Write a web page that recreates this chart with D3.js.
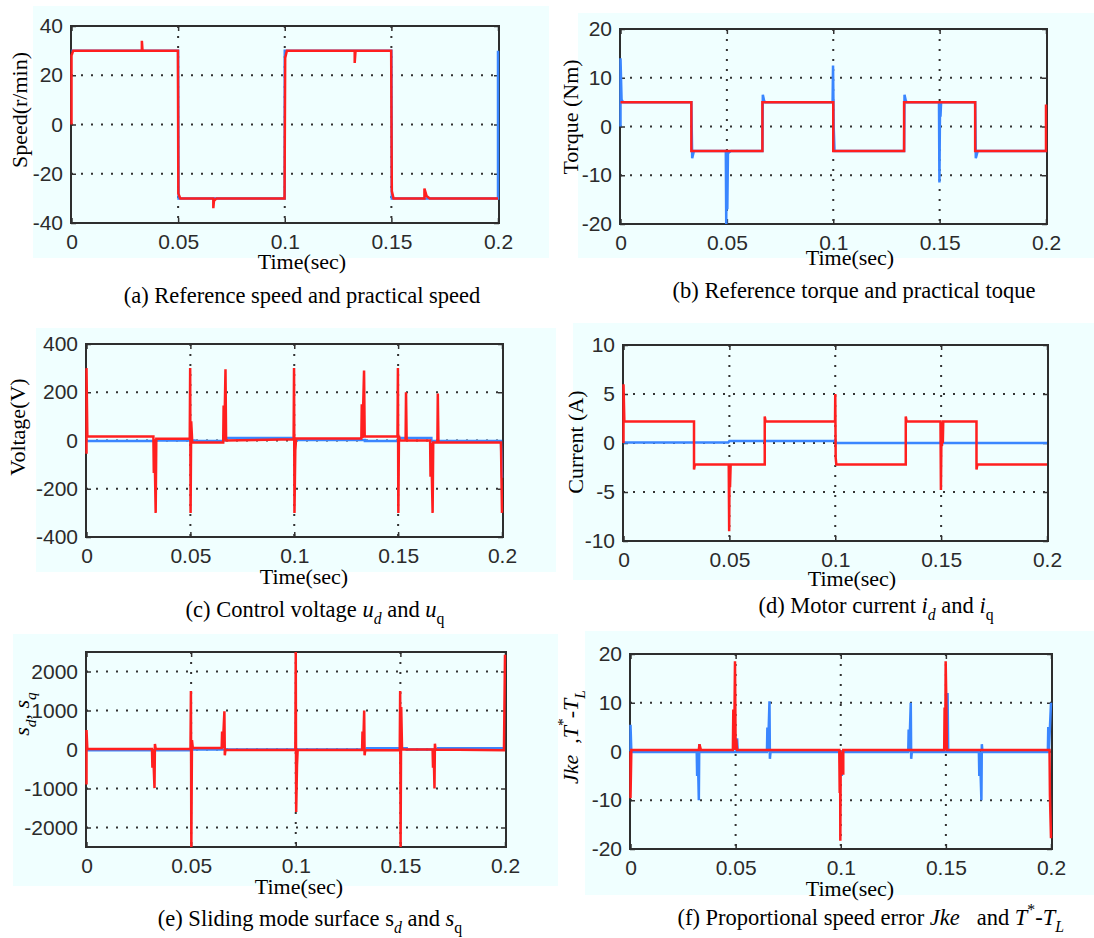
<!DOCTYPE html>
<html>
<head>
<meta charset="utf-8">
<script src="https://cdn.jsdelivr.net/npm/d3@7"></script>
<style>
  body { margin: 0; background: #fff; }
  .tick text { font-family: "Liberation Sans", Arial, sans-serif; font-size: 21px; fill: #2b2b2b; }
  .lbl { font-family: "Liberation Serif", "Times New Roman", serif; font-size: 22px; fill: #000; }
  .cap { font-family: "Liberation Serif", "Times New Roman", serif; font-size: 22.5px; fill: #000; }
</style>
</head>
<body>
<div id="chart"></div>
<script>
// time axis shared by all six panels
var xTicks = [0, 0.05, 0.1, 0.15, 0.2];
var xTickLabels = ["0", "0.05", "0.1", "0.15", "0.2"];

// y ticks for every panel
var speedTicks = [-40, -20, 0, 20, 40];
var torqueTicks = [-20, -10, 0, 10, 20];
var voltTicks = [-400, -200, 0, 200, 400];
var currentTicks = [-10, -5, 0, 5, 10];
var surfTicks = [-2000, -1000, 0, 1000, 2000];
var errTicks = [-20, -10, 0, 10, 20];

// (a) speed: reference (blue) and practical (red), [time, value]
var speedRef = [[0,30],[0.05,30],[0.0502,-26],[0.0502,-30],[0.1,-30],[0.1,30],[0.15,30],[0.1502,-26],[0.1502,-30],[0.2,-30],[0.2,30]];
var speedAct = [[0,0],[0,28],[0.0008,30],[0.033,30],[0.033,34],[0.0333,30],[0.0499,30],[0.0501,-28],[0.051,-30],
  [0.0665,-30],[0.0665,-34],[0.0668,-31],[0.068,-30],[0.0999,-30],[0.1002,27],[0.101,30],[0.1328,30],[0.1328,25],
  [0.1332,30],[0.1499,30],[0.1502,-27],[0.151,-30],[0.1655,-30],[0.1655,-26],[0.1665,-29],[0.168,-30],[0.2,-30]];

// (b) torque: reference (red) and practical (blue)
var torqueRef = [[0,5],[0.0333,5],[0.0333,-5],[0.0667,-5],[0.0667,5],[0.1,5],[0.1,-5],[0.1333,-5],[0.1333,5],
  [0.1667,5],[0.1667,-5],[0.2,-5],[0.2,4.5]];
var torqueAct = [[0,0],[0,14],[0.0005,5.5],[0.0012,5],[0.0333,5],[0.0337,-6.5],[0.0345,-5],[0.0495,-5],[0.0497,-20],
  [0.0499,-5],[0.0502,-17],[0.0505,-5.5],[0.052,-5],[0.0667,-5],[0.0669,6.5],[0.0675,5.3],[0.068,5],[0.0997,5],
  [0.0999,12.5],[0.1002,0],[0.1006,-5],[0.1333,-5],[0.1335,6.5],[0.1341,5.3],[0.1346,5],[0.1497,5],[0.1499,-11.5],
  [0.1502,5],[0.1504,2],[0.1507,5],[0.1667,5],[0.167,-6.5],[0.1676,-5.5],[0.168,-5],[0.2,-5]];

// (c) control voltage u_d (blue) and u_q (red)
var udVolt = [[0,-2],[0.033,-2],[0.033,0],[0.052,0],[0.052,-2],[0.066,-2],[0.067,10],[0.1,10],[0.1,2],[0.134,2],
  [0.134,-2],[0.15,-2],[0.15,10],[0.166,10],[0.166,-2],[0.1995,-2],[0.2,-155]];
var uqVolt = [[0,-55],[0,300],[0.0004,17],[0.0322,17],[0.0324,-135],[0.0327,5],[0.0333,-300],[0.0336,7],[0.0497,7],
  [0.0499,300],[0.0501,-300],[0.0504,80],[0.0509,-8],[0.0658,-8],[0.066,145],[0.0663,0],[0.0669,295],[0.0672,0],
  [0.0997,5],[0.0999,300],[0.1001,-300],[0.1005,-40],[0.1009,8],[0.1323,8],[0.1325,150],[0.1328,10],[0.1336,290],
  [0.1339,17],[0.1497,17],[0.1499,300],[0.1501,-300],[0.1504,20],[0.1508,0],[0.1536,0],[0.1538,200],[0.1541,0],
  [0.1654,0],[0.1656,-150],[0.1659,-8],[0.1666,-300],[0.1669,-8],[0.1689,-8],[0.1691,195],[0.1694,-8],[0.1995,-8],
  [0.2,-300]];

// (d) motor current i_d (blue) and i_q (red)
var idCur = [[0,0.05],[0.0495,0.05],[0.05,0.2],[0.0995,0.2],[0.1,0.3],[0.1005,0],[0.1498,0],[0.15,0.3],[0.1505,0],[0.2,0]];
var iqCur = [[0,0],[0,6],[0.0004,2.2],[0.0333,2.2],[0.0333,-2.7],[0.0337,-2.2],[0.0497,-2.2],[0.0499,-9],[0.0501,-2.2],
  [0.0503,-4.5],[0.0506,-2.2],[0.0667,-2.2],[0.0667,2.7],[0.0671,2.2],[0.0999,2.2],[0.1,5],[0.1002,-1.5],[0.1005,-2.2],
  [0.1333,-2.2],[0.1333,2.7],[0.1337,2.2],[0.1497,2.2],[0.1499,-4.8],[0.1502,2],[0.1504,-0.3],[0.1506,2.2],[0.1508,0],
  [0.151,2.2],[0.1667,2.2],[0.1667,-2.7],[0.1671,-2.2],[0.2,-2.2]];

// (e) sliding mode surface s_d (blue) and s_q (red)
var sdSurf = [[0,-20],[0.0495,-20],[0.05,0],[0.134,0],[0.134,30],[0.153,30],[0.153,0],[0.168,0],[0.168,30],[0.2,30]];
var sqSurf = [[0,-900],[0,500],[0.0004,10],[0.0313,10],[0.0315,-470],[0.0318,10],[0.0325,-990],[0.0327,140],
  [0.0331,10],[0.0497,10],[0.0499,1500],[0.0501,-2500],[0.0504,240],[0.0508,40],[0.0646,40],[0.0648,460],[0.0651,40],
  [0.0659,980],[0.0661,-150],[0.0664,-10],[0.0998,-10],[0.1,2500],[0.1002,-1600],[0.1006,-400],[0.1009,-10],
  [0.1317,-10],[0.1319,460],[0.1322,-10],[0.1327,1000],[0.1329,-150],[0.1332,-20],[0.1497,-20],[0.1499,1500],
  [0.1501,-2500],[0.1504,1090],[0.1508,0],[0.1654,0],[0.1656,-470],[0.1659,0],[0.1663,-1000],[0.1665,150],
  [0.1668,0],[0.1995,-20],[0.2,2430]];

// (f) proportional speed error Jke (blue) and T*-T_L (red)
var jkeErr = [[0,0],[0,5.5],[0.0004,-0.1],[0.0315,-0.1],[0.0317,-5],[0.032,-0.1],[0.0325,-10],[0.0327,1.5],[0.033,-0.1],
  [0.0504,-0.1],[0.0507,2.7],[0.051,-0.1],[0.0649,-0.1],[0.0651,4.9],[0.0654,-0.1],[0.0661,10.3],[0.0663,-1.5],
  [0.0666,-0.1],[0.1002,-0.1],[0.1005,-5],[0.1008,-0.1],[0.1321,-0.1],[0.1323,4.5],[0.1326,-0.1],[0.1333,10],
  [0.1335,-1.5],[0.1338,-0.1],[0.1505,-0.1],[0.1508,12],[0.1511,-0.1],[0.1657,-0.1],[0.1659,-5],[0.1662,-0.1],
  [0.1669,-10],[0.1671,1.5],[0.1674,-0.1],[0.1985,-0.1],[0.1987,5],[0.199,0],[0.2,10]];
var tErr = [[0,0],[0,-9.6],[0.0004,0.3],[0.0325,0.3],[0.0328,1.5],[0.0335,0.3],[0.0487,0.3],[0.0489,8.6],[0.0493,0.3],
  [0.0497,18.5],[0.05,0.3],[0.0503,2.5],[0.0507,0.3],[0.0993,0.3],[0.0995,-8.5],[0.0997,0.3],[0.0998,-18.3],[0.1,0],
  [0.1,-4.5],[0.1012,-4.5],[0.1012,0.3],[0.1492,0.3],[0.1494,9],[0.1497,0.3],[0.1499,18.5],[0.1502,10.5],[0.1505,0.3],
  [0.1993,0.3],[0.1995,-9],[0.2,-17.8]];

var RED = "#ff1f1f", BLUE = "#3a86ff";

// ---- layout for each panel ----
var panels = [
  { bg: [33, 6, 549, 258], plot: [71, 26, 499, 223], yDomain: [-40, 40], yTicks: speedTicks,
    lines: [[speedRef, BLUE], [speedAct, RED]],
    ylab: [[{t: "Speed(r/min)"}], 27, 110], time: [302, 269],
    cap: [[{t: "(a) Reference speed and practical speed"}], 302, 303, "middle"] },
  { bg: [578, 13, 1094, 258], plot: [620, 29, 1047, 224], yDomain: [-20, 20], yTicks: torqueTicks,
    lines: [[torqueAct, BLUE], [torqueRef, RED]],
    ylab: [[{t: "Torque (Nm)"}], 578, 117], time: [850, 265],
    cap: [[{t: "(b) Reference torque and practical toque"}], 854, 298, "middle"] },
  { bg: [36, 328, 556, 572], plot: [86, 344, 503, 537], yDomain: [-400, 400], yTicks: voltTicks,
    lines: [[udVolt, BLUE], [uqVolt, RED]],
    ylab: [[{t: "Voltage(V)"}], 25, 427], time: [304, 584],
    cap: [[{t: "(c) Control voltage "}, {t: "u", i: 1}, {t: "d", i: 1, sub: 1}, {t: " and "}, {t: "u", i: 1}, {t: "q", sub: 1}], 315, 617, "middle"] },
  { bg: [573, 323, 1094, 580], plot: [623, 345, 1048, 541], yDomain: [-10, 10], yTicks: currentTicks,
    lines: [[idCur, BLUE], [iqCur, RED]],
    ylab: [[{t: "Current (A)"}], 583, 442], time: [852, 586],
    cap: [[{t: "(d) Motor current "}, {t: "i", i: 1}, {t: "d", i: 1, sub: 1}, {t: " and "}, {t: "i", i: 1}, {t: "q", sub: 1}], 876, 613, "middle"] },
  { bg: [13, 634, 558, 886], plot: [86, 652, 506, 847], yDomain: [-2500, 2500], yTicks: surfTicks,
    lines: [[sdSurf, BLUE], [sqSurf, RED]],
    ylab: [[{t: "s", i: 1}, {t: "d", i: 1, sub: 1}, {t: ", "}, {t: "s", i: 1}, {t: "q", i: 1, sub: 1}], 29, 714], time: [299, 894],
    cap: [[{t: "(e) Sliding mode surface s"}, {t: "d", i: 1, sub: 1}, {t: " and "}, {t: "s", i: 1}, {t: "q", sub: 1}], 310, 926, "middle"] },
  { bg: [585, 631, 1094, 895], plot: [630, 654, 1052, 849], yDomain: [-20, 20], yTicks: errTicks,
    lines: [[jkeErr, BLUE], [tErr, RED]],
    ylab: [[{t: "Jke", i: 1}, {t: "\u00a0 ,"}, {t: "T", i: 1}, {t: "*", sup: 1}, {t: "-"}, {t: "T", i: 1}, {t: "L", i: 1, sub: 1}], 578, 737], time: [850, 896],
    cap: [[{t: "(f) Proportional speed error "}, {t: "Jke", i: 1}, {t: "\u00a0\u00a0 and "}, {t: "T", i: 1}, {t: "*", sup: 1}, {t: "-"}, {t: "T", i: 1}, {t: "L", i: 1, sub: 1}], 1064, 925, "end"] }
];

var svg = d3.select("#chart").append("svg")
    .attr("width", 1094)
    .attr("height", 938);

svg.append("rect").attr("width", 1094).attr("height", 938).attr("fill", "#fff");

// writes text with italics and sub / superscripts as tspans
function richText(sel, parts, size) {
  var cur = 0;
  parts.forEach(function(p) {
    var want = p.sub ? size * 0.3 : (p.sup ? -size * 0.45 : 0);
    var ts = sel.append("tspan").text(p.t);
    if (want !== cur) ts.attr("dy", want - cur);
    cur = want;
    if (p.i) ts.style("font-style", "italic");
    if (p.sub || p.sup) ts.style("font-size", (size * 0.7) + "px");
  });
}

panels.forEach(function(p, k) {
  var g = svg.append("g");
  g.append("rect")
    .attr("x", p.bg[0]).attr("y", p.bg[1])
    .attr("width", p.bg[2] - p.bg[0]).attr("height", p.bg[3] - p.bg[1])
    .attr("fill", "#f0ffff");

  var x = d3.scaleLinear().domain([0, 0.2]).range([p.plot[0] + 0.5, p.plot[2] - 1]);
  var y = d3.scaleLinear().domain(p.yDomain).range([p.plot[3], p.plot[1]]);

  // dotted grid
  g.selectAll(".gx").data(xTicks.slice(1, -1)).enter().append("line")
    .attr("x1", d => x(d)).attr("x2", d => x(d))
    .attr("y1", p.plot[1]).attr("y2", p.plot[3])
    .attr("stroke", "#333").attr("stroke-width", 2).attr("stroke-dasharray", "2,8");
  g.selectAll(".gy").data(p.yTicks.filter(v => v > p.yDomain[0] && v < p.yDomain[1])).enter().append("line")
    .attr("x1", p.plot[0]).attr("x2", p.plot[2])
    .attr("y1", d => y(d)).attr("y2", d => y(d))
    .attr("stroke", "#333").attr("stroke-width", 2).attr("stroke-dasharray", "2,8");

  // axes with inward ticks
  g.append("g").attr("transform", "translate(0," + p.plot[3] + ")")
    .call(d3.axisBottom(x).tickValues(xTicks).tickSize(-5).tickPadding(11)
      .tickFormat((d, i) => xTickLabels[i]));
  g.append("g").attr("transform", "translate(0," + p.plot[1] + ")")
    .call(d3.axisTop(x).tickValues(xTicks).tickSize(-5).tickFormat(""));
  g.append("g").attr("transform", "translate(" + p.plot[0] + ",0)")
    .call(d3.axisLeft(y).tickValues(p.yTicks).tickSize(-5).tickPadding(8).tickFormat(d => String(d)));
  g.append("g").attr("transform", "translate(" + p.plot[2] + ",0)")
    .call(d3.axisRight(y).tickValues(p.yTicks).tickSize(-5).tickFormat(""));
  g.selectAll(".domain").remove();
  g.selectAll(".tick line").attr("stroke", "#333").attr("stroke-width", 1.5);

  // frame
  g.append("rect")
    .attr("x", p.plot[0]).attr("y", p.plot[1])
    .attr("width", p.plot[2] - p.plot[0]).attr("height", p.plot[3] - p.plot[1])
    .attr("fill", "none").attr("stroke", "#2e2e2e").attr("stroke-width", 2);

  // data lines, drawn over the frame like the original
  var line = d3.line().x(d => x(d[0])).y(d => y(d[1]));
  p.lines.forEach(function(s) {
    g.append("path")
      .datum(s[0])
      .attr("fill", "none")
      .attr("stroke", s[1])
      .attr("stroke-width", 2.5)
      .attr("d", line);
  });

  // labels
  var yl = g.append("text").attr("class", "lbl")
    .attr("text-anchor", "middle")
    .attr("transform", "translate(" + p.ylab[1] + "," + p.ylab[2] + ") rotate(-90)");
  richText(yl, p.ylab[0], 22);

  g.append("text").attr("class", "lbl")
    .attr("x", p.time[0]).attr("y", p.time[1])
    .attr("text-anchor", "middle")
    .text("Time(sec)");

  var cap = g.append("text").attr("class", "cap")
    .attr("x", p.cap[1]).attr("y", p.cap[2])
    .attr("text-anchor", p.cap[3]);
  richText(cap, p.cap[0], 22.5);
});
</script>
</body>
</html>
